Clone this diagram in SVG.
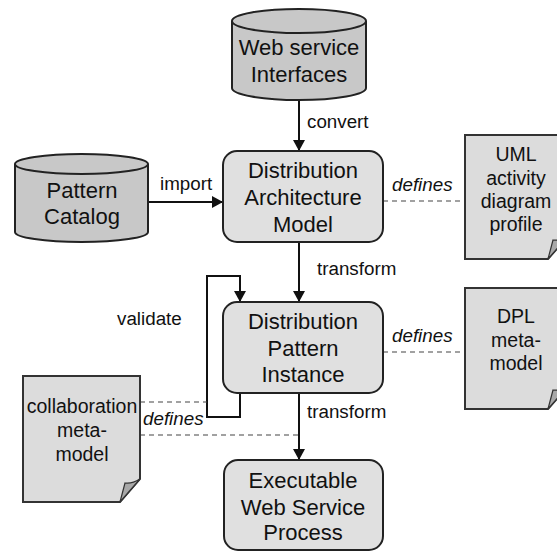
<svg xmlns="http://www.w3.org/2000/svg" width="557" height="551" viewBox="0 0 557 551">
<style>
text{font-family:"Liberation Sans",Arial,sans-serif;fill:#111;text-anchor:middle}
.n{font-size:22px}
.d{font-size:19.5px}
.l{font-size:18.8px;text-anchor:start}
.i{font-style:italic}
.box{fill:#e0e0e0;stroke:#222;stroke-width:2}
.cyl{fill:#c8c8c8;stroke:#222;stroke-width:2}
.doc{fill:#dcdcdc;stroke:#333;stroke-width:2}
.fold{fill:#a8a8a8;stroke:#333;stroke-width:1.2}
.e{fill:none;stroke:#111;stroke-width:2}
.dash{fill:none;stroke:#444;stroke-width:1.2;stroke-dasharray:5 4}
</style>
<defs>
<marker id="ah" markerWidth="12" markerHeight="12" refX="10" refY="6" orient="auto" markerUnits="userSpaceOnUse">
<path d="M0,0 L11,6 L0,12 Z" fill="#111"/>
</marker>
</defs>
<g id="edges">
<line class="e" x1="299" y1="100" x2="299" y2="150" marker-end="url(#ah)"/>
<line class="e" x1="148" y1="202" x2="222" y2="202" marker-end="url(#ah)"/>
<line class="e" x1="299" y1="242" x2="299" y2="301" marker-end="url(#ah)"/>
<path class="e" d="M240,393 V417 H207 V276 H240 V301" marker-end="url(#ah)"/>
<line class="e" x1="299" y1="393" x2="299" y2="459" marker-end="url(#ah)"/>
<line class="dash" x1="383" y1="201" x2="465" y2="201"/>
<line class="dash" x1="383" y1="352" x2="465" y2="352"/>
<line class="dash" x1="140" y1="402" x2="207" y2="402"/>
<line class="dash" x1="140" y1="435" x2="299" y2="435"/>
<text class="l" x="307" y="128">convert</text>
<text class="l" x="160" y="190">import</text>
<text class="l" x="317" y="275">transform</text>
<text class="l" x="117" y="325">validate</text>
<text class="l" x="307" y="418">transform</text>
<text class="l i" x="392" y="191">defines</text>
<text class="l i" x="392" y="342">defines</text>
<text class="l i" x="143" y="425">defines</text>
</g>
<g id="web-service-interfaces">
<path class="cyl" d="M232,21 V88 A67,12 0 0 0 366,88 V21"/>
<ellipse class="cyl" cx="299" cy="21" rx="67" ry="12"/>
<text class="n" x="299" y="55">Web service</text>
<text class="n" x="299" y="82">Interfaces</text>
</g>
<g id="pattern-catalog">
<path class="cyl" d="M15,164 V232 A66.5,10 0 0 0 148,232 V164"/>
<ellipse class="cyl" cx="81.5" cy="164" rx="66.5" ry="10"/>
<text class="n" x="82" y="198">Pattern</text>
<text class="n" x="82" y="224">Catalog</text>
</g>
<g id="distribution-architecture-model">
<rect class="box" x="223" y="151" width="160" height="91" rx="14"/>
<text class="n" x="303" y="178">Distribution</text>
<text class="n" x="303" y="205">Architecture</text>
<text class="n" x="303" y="232">Model</text>
</g>
<g id="distribution-pattern-instance">
<rect class="box" x="223" y="302" width="160" height="91" rx="14"/>
<text class="n" x="303" y="329">Distribution</text>
<text class="n" x="303" y="356">Pattern</text>
<text class="n" x="303" y="382">Instance</text>
</g>
<g id="executable-web-service-process">
<rect class="box" x="224" y="460" width="159" height="90" rx="14"/>
<text class="n" x="303" y="488">Executable</text>
<text class="n" x="303" y="515">Web Service</text>
<text class="n" x="303" y="540">Process</text>
</g>
<g id="uml-profile">
<path class="doc" d="M465,135 H568 V236 L548,259 H465 Z"/>
<path class="fold" d="M548,259 L553,240 Q560,241 568,236 Z"/>
<text class="d" x="516" y="161">UML</text>
<text class="d" x="516" y="185">activity</text>
<text class="d" x="516" y="208">diagram</text>
<text class="d" x="516" y="231">profile</text>
</g>
<g id="dpl-metamodel">
<path class="doc" d="M465,288 H568 V386 L548,409 H465 Z"/>
<path class="fold" d="M548,409 L553,390 Q560,391 568,386 Z"/>
<text class="d" x="516" y="323">DPL</text>
<text class="d" x="516" y="347">meta-</text>
<text class="d" x="516" y="370">model</text>
</g>
<g id="collaboration-metamodel">
<path class="doc" d="M23,376 H140 V479 L120,502 H23 Z"/>
<path class="fold" d="M120,502 L125,483 Q132,484 140,479 Z"/>
<text class="d" x="82" y="413">collaboration</text>
<text class="d" x="82" y="437">meta-</text>
<text class="d" x="82" y="461">model</text>
</g>
</svg>
